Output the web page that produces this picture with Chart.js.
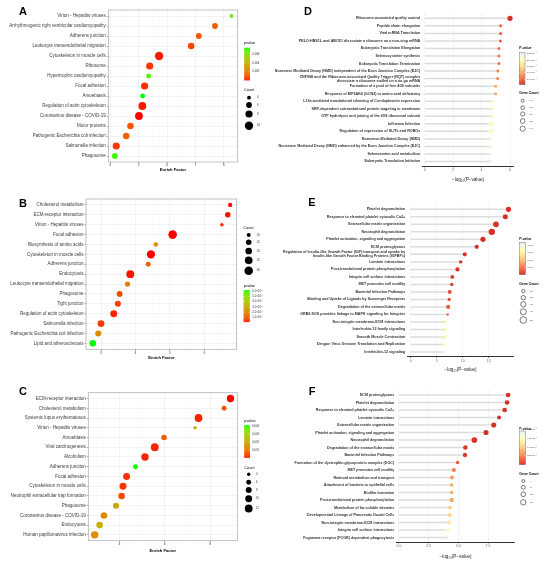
<!DOCTYPE html>
<html><head><meta charset="utf-8">
<script src="https://cdn.jsdelivr.net/npm/chart.js@4.4.1/dist/chart.umd.min.js"></script>
<style>
html,body{margin:0;padding:0;background:#fff;}
#wrap{position:relative;width:550px;height:564px;overflow:hidden;background:#fff;}
.pc{position:absolute;}
.pc canvas{display:block;}
.letter{position:absolute;transform:translate(-50%,-50%);font-family:"Liberation Sans",Arial,sans-serif;font-weight:bold;font-size:11px;line-height:1;color:#000;}
</style></head><body>
<div id="wrap">
 <div class="pc" style="left:0px;top:0px;width:275px;height:185px"><canvas id="cA"></canvas></div>
 <div class="pc" style="left:0px;top:185px;width:275px;height:185px"><canvas id="cB"></canvas></div>
 <div class="pc" style="left:0px;top:370px;width:275px;height:194px"><canvas id="cC"></canvas></div>
 <div class="pc" style="left:275px;top:0px;width:275px;height:185px"><canvas id="cD"></canvas></div>
 <div class="pc" style="left:275px;top:185px;width:275px;height:190px"><canvas id="cE"></canvas></div>
 <div class="pc" style="left:275px;top:375px;width:275px;height:189px"><canvas id="cF"></canvas></div>
 <div class="letter" style="left:23px;top:11px">A</div>
 <div class="letter" style="left:23px;top:203px">B</div>
 <div class="letter" style="left:23px;top:391px">C</div>
 <div class="letter" style="left:308px;top:11px">D</div>
 <div class="letter" style="left:312px;top:202px">E</div>
 <div class="letter" style="left:312px;top:391px">F</div>
</div>
<script>
// ================= DATA =================
// Panel A (KEGG)
const termsA = ["Virion - Hepatitis viruses","Arrhythmogenic right ventricular cardiomyopathy","Adherens junction","Leukocyte transendothelial migration","Cytoskeleton in muscle cells","Ribosome","Hypertrophic cardiomyopathy","Focal adhesion","Amoebiasis","Regulation of actin cytoskeleton","Coronavirus disease - COVID-19","Motor proteins","Pathogenic Escherichia coli infection","Salmonella infection","Phagosome"];
const enrichA = [8.27,7.69,7.12,6.85,5.72,5.39,5.35,5.21,5.14,5.13,5.01,4.71,4.56,4.21,4.16];
const countA  = [4,6,6,7,10,8,5,8,5,9,9,7,7,8,6];
const pvalA   = [0.0062,0.0012,0.0011,0.0007,0.0002,0.0005,0.0069,0.0004,0.0074,0.0002,0.0001,0.0011,0.0013,0.0005,0.0071];
const xTicksA = [4,5,6,7,8];
const xTickLabelsA = ["4","5","6","7","8"];
const xMinorA = [4.5,5.5,6.5,7.5];
const pTicksA = [0.002,0.004,0.006];
const pTickLabelsA = ["0.002","0.004","0.006"];
const countTicksA = [4,6,8,10];
const countTickLabelsA = ["4","6","8","10"];

// Panel B (KEGG)
const termsB = ["Cholesterol metabolism","ECM-receptor interaction","Virion - Hepatitis viruses","Focal adhesion","Biosynthesis of amino acids","Cytoskeleton in muscle cells","Adherens junction","Endocytosis","Leukocyte transendothelial migration","Phagosome","Tight junction","Regulation of actin cytoskeleton","Salmonella infection","Pathogenic Escherichia coli infection","Lipid and atherosclerosis"];
const enrichB = [6.75,6.68,6.51,5.08,4.59,4.45,4.37,3.85,3.77,3.54,3.49,3.37,3.00,2.92,2.76];
const countB  = [11,15,9,30,12,28,13,26,14,16,17,21,21,17,19];
const pvalB   = [2.6e-6,3.0e-6,4.5e-6,2.5e-6,2.4e-5,2.5e-6,1.2e-5,3.0e-6,2.0e-5,8e-6,7e-6,4e-6,6e-6,2.3e-5,6.2e-5];
const xTicksB = [3,4,5,6];
const xTickLabelsB = ["3","4","5","6"];
const xMinorB = [3.5,4.5,5.5,6.5];
const pTicksB = [1e-5,2e-5,3e-5,4e-5,5e-5,6e-5];
const pTickLabelsB = ["1.0×10⁻⁵","2.0×10⁻⁵","3.0×10⁻⁵","4.0×10⁻⁵","5.0×10⁻⁵","6.0×10⁻⁵"];
const countTicksB = [10,15,20,25,30];
const countTickLabelsB = ["10","15","20","25","30"];

// Panel C (KEGG)
const termsC = ["ECM-receptor interaction","Cholesterol metabolism","Systemic lupus erythematosus","Virion - Hepatitis viruses","Amoebiasis","Viral carcinogenesis","Alcoholism","Adherens junction","Focal adhesion","Cytoskeleton in muscle cells","Neutrophil extracellular trap formation","Phagosome","Coronavirus disease - COVID-19","Endocytosis","Human papillomavirus infection"];
const enrichC = [8.90,8.62,7.49,7.34,5.97,5.56,5.13,4.71,4.32,4.16,4.10,3.85,3.32,3.13,2.91];
const countC  = [11,6,12,4,7,12,11,6,10,10,9,8,9,9,11];
const pvalC   = [0.0001,0.0006,0.0002,0.0023,0.0007,0.0002,0.0002,0.0041,0.0003,0.0003,0.0005,0.0020,0.0014,0.0022,0.0015];
const xTicksC = [4,6,8];
const xTickLabelsC = ["4","6","8"];
const xMinorC = [3,5,7,9];
const pTicksC = [0.001,0.002,0.003,0.004];
const pTickLabelsC = ["0.001","0.002","0.003","0.004"];
const countTicksC = [4,6,8,10,12];
const countTickLabelsC = ["4","6","8","10","12"];

// Panel D (Reactome)
const termsD = ["Ribosome-associated quality control","Peptide chain elongation","Viral mRNA Translation","PELO:HBS1L and ABCE1 dissociate a ribosome on a non-stop mRNA","Eukaryotic Translation Elongation","Selenocysteine synthesis","Eukaryotic Translation Termination","Nonsense Mediated Decay (NMD) independent of the Exon Junction Complex (EJC)",["ZNF598 and the Ribosome-associated Quality Trigger (RQT) complex","dissociate a ribosome stalled on a no-go mRNA"],"Formation of a pool of free 40S subunits","Response of EIF2AK4 (GCN2) to amino acid deficiency","L13a-mediated translational silencing of Ceruloplasmin expression","SRP-dependent cotranslational protein targeting to membrane","GTP hydrolysis and joining of the 60S ribosomal subunit","Influenza Infection","Regulation of expression of SLITs and ROBOs","Nonsense-Mediated Decay (NMD)","Nonsense Mediated Decay (NMD) enhanced by the Exon Junction Complex (EJC)","Selenoamino acid metabolism","Eukaryotic Translation Initiation"];
const logpD  = [6.00,5.34,5.34,5.32,5.22,5.22,5.22,5.15,5.13,4.99,4.99,4.73,4.73,4.73,4.66,4.66,4.64,4.64,4.61,4.59];
const countD = [9,7,7,7,7,7,7,7,7,7,7,7,7,7,9,9,7,7,7,7];
const xTicksD = [0,2,4,6];
const xTickLabelsD = ["0","2","4","6"];
const pTicksD = [5e-6,1e-5,1.5e-5,2e-5,2.5e-5];
const pTickLabelsD = ["5.0×10⁻⁶","1.0×10⁻⁵","1.5×10⁻⁵","2.0×10⁻⁵","2.5×10⁻⁵"];
const countTicksD = [7,7.5,8,8.5,9];
const countTickLabelsD = ["7.0","7.5","8.0","8.5","9.0"];

// Panel E (Reactome)
const termsE = ["Platelet degranulation","Response to elevated platelet cytosolic Ca2+","Extracellular matrix organization","Neutrophil degranulation","Platelet activation, signaling and aggregation","ECM proteoglycans",["Regulation of Insulin-like Growth Factor (IGF) transport and uptake by","Insulin-like Growth Factor Binding Proteins (IGFBPs)"],"Laminin interactions","Post-translational protein phosphorylation","Integrin cell surface interactions","MET promotes cell motility","Bacterial Infection Pathways","Binding and Uptake of Ligands by Scavenger Receptors","Degradation of the extracellular matrix","GRB2:SOS provides linkage to MAPK signaling for Integrins","Non-integrin membrane-ECM interactions","Interleukin-12 family signaling","Smooth Muscle Contraction","Dengue Virus Genome Translation and Replication","Interleukin-12 signaling"];
const logpE  = [18.8,18.2,16.4,15.6,13.9,12.7,10.4,9.6,9.0,8.0,7.9,7.5,7.4,7.2,7.1,6.5,6.5,6.5,6.45,6.35];
const countE = [30,27,35,45,30,17,17,10,17,14,10,14,10,17,5,10,10,10,10,8];
const xTicksE = [0,5,10,15];
const xTickLabelsE = ["0","5","10","15"];
const pTicksE = [1e-7,2e-7,3e-7,4e-7];
const pTickLabelsE = ["1×10⁻⁷","2×10⁻⁷","3×10⁻⁷","4×10⁻⁷"];
const countTicksE = [10,20,30,40,50];
const countTickLabelsE = ["10","20","30","40","50"];

// Panel F (Reactome)
const termsF = ["ECM proteoglycans","Platelet degranulation","Response to elevated platelet cytosolic Ca2+","Laminin interactions","Extracellular matrix organization","Platelet activation, signaling and aggregation","Neutrophil degranulation","Degradation of the extracellular matrix","Bacterial Infection Pathways","Formation of the dystrophin-glycoprotein complex (DGC)","MET promotes cell motility","Retinoid metabolism and transport","Attachment of bacteria to epithelial cells","Biofilm formation","Post-translational protein phosphorylation","Metabolism of fat-soluble vitamins","Developmental Lineage of Pancreatic Ductal Cells","Non-integrin membrane-ECM interactions","Integrin cell surface interactions","Fcgamma receptor (FCGR) dependent phagocytosis"];
const logpF  = [9.19,9.10,8.90,8.43,7.98,7.33,6.35,5.59,5.56,4.94,4.63,4.47,4.44,4.44,4.44,4.30,4.27,4.21,4.10,4.02];
const countF = [12,12,12,8,14,14,18,11,10,6,8,8,5,5,10,7,8,8,8,8];
const xTicksF = [0,2.5,5,7.5];
const xTickLabelsF = ["0.0","2.5","5.0","7.5"];
const pTicksF = [2.5e-5,5e-5,7.5e-5,1e-4];
const pTickLabelsF = ["2.5×10⁻⁵","5.0×10⁻⁵","7.5×10⁻⁵","1.0×10⁻⁴"];
const countTicksF = [4,8,12,16];
const countTickLabelsF = ["4","8","12","16"];

// ================= COLOURS / SIZES =================
const FAM = "'Liberation Sans', Arial, Helvetica, sans-serif";
function s2l(c){c/=255;return c<=0.04045?c/12.92:Math.pow((c+0.055)/1.055,2.4);}
function l2s(c){c=c<=0.0031308?12.92*c:1.055*Math.pow(Math.max(c,0),1/2.4)-0.055;return Math.round(Math.max(0,Math.min(1,c))*255);}
function rgb2lab(rgb){const R=s2l(rgb[0]),G=s2l(rgb[1]),B=s2l(rgb[2]);
  const X=(0.4124*R+0.3576*G+0.1805*B)/0.95047,Y=0.2126*R+0.7152*G+0.0722*B,Z=(0.0193*R+0.1192*G+0.9505*B)/1.08883;
  const f=t=>t>0.008856?Math.cbrt(t):7.787*t+16/116;const fx=f(X),fy=f(Y),fz=f(Z);
  return [116*fy-16,500*(fx-fy),200*(fy-fz)];}
function lab2rgb(lab){const fy=(lab[0]+16)/116,fx=fy+lab[1]/500,fz=fy-lab[2]/200;
  const fi=t=>t>0.206893?t*t*t:(t-16/116)/7.787;
  const X=fi(fx)*0.95047,Y=fi(fy),Z=fi(fz)*1.08883;
  const R=3.2406*X-1.5372*Y-0.4986*Z,G=-0.9689*X+1.8758*Y+0.0415*Z,B=0.0557*X-0.2040*Y+1.0570*Z;
  return `rgb(${l2s(R)},${l2s(G)},${l2s(B)})`;}
const LAB_LO=rgb2lab([255,0,0]), LAB_HI=rgb2lab([0,255,0]);
function ggRedGreen(t){t=Math.max(0,Math.min(1,t));return lab2rgb(LAB_LO.map((v,i)=>v+(LAB_HI[i]-v)*t));}
const PAL=["#D73027","#F46D43","#FDAE61","#FEE090","#FFFFBF","#E0F3F8"];
function hex2rgb(h){return [parseInt(h.slice(1,3),16),parseInt(h.slice(3,5),16),parseInt(h.slice(5,7),16)];}
function palRYB(t){const n=PAL.length-1;const s=Math.min(n-1e-9,Math.max(0,t*n));const i=Math.floor(s),f=s-i;
  const a=hex2rgb(PAL[i]),b=hex2rgb(PAL[i+1]);return `rgb(${a.map((v,k)=>Math.round(v+(b[k]-v)*f)).join(',')})`;}
function sizeFn(cmin,cmax,rmin,rmax){return c=>Math.sqrt(Math.max(0.4,rmin*rmin+(c-cmin)/(cmax-cmin)*(rmax*rmax-rmin*rmin)));}
const toP = arr => arr.map(v=>Math.pow(10,-v));

// ================= PANEL LAYOUT =================
const panels = [
 {id:'cA',style:'gg',box:[0,0,275,185],plot:[108.3,10,237.7,162],xAxisH:10,terms:termsA,xs:enrichA,counts:countA,ps:pvalA,
  xMin:3.93,xMax:8.49,xMajor:xTicksA,xLabels:xTickLabelsA,xMinor:xMinorA,xTitle:'Enrich Factor',
  labelFont:4.5,tickFont:3.4,titleFont:4.1,size:[4,10,1.9,4.2],pTicks:pTicksA,pLabels:pTickLabelsA,cTicks:countTicksA,cLabels:countTickLabelsA,
  leg:{titleSize:3.8,labelSize:2.8,cbar:{title:'pvalue',tx:244,ty:43.3,x:244.3,y0:47.7,y1:80,w:5.7,lx:252.3},
       size:{title:'Count',tx:244,ty:90,cx:249,ys:[97.7,105,114,125.7],lx:257}}},
 {id:'cB',style:'gg',box:[0,185,275,185],plot:[86,199,236.7,349.3],xAxisH:11.1,terms:termsB,xs:enrichB,counts:countB,ps:pvalB,
  xMin:2.564,xMax:6.94,xMajor:xTicksB,xLabels:xTickLabelsB,xMinor:xMinorB,xTitle:'Enrich Factor',
  labelFont:4.5,tickFont:3.4,titleFont:4.1,size:[10,30,2.0,4.3],pTicks:pTicksB,pLabels:pTickLabelsB,cTicks:countTicksB,cLabels:countTickLabelsB,
  leg:{titleSize:3.8,labelSize:2.8,cbar:{title:'pvalue',tx:243.7,ty:100.7,x:243.7,y0:105,y1:136.7,w:6,lx:252.3},
       size:{title:'Count',tx:243.3,ty:43.3,cx:248.7,ys:[50,57.3,66,75.3,85.7],lx:256.7}}},
 {id:'cC',style:'gg',box:[0,370,275,194],plot:[88.3,392.7,237.3,540.7],xAxisH:12.7,terms:termsC,xs:enrichC,counts:countC,ps:pvalC,
  xMin:2.63,xMax:9.2,xMajor:xTicksC,xLabels:xTickLabelsC,xMinor:xMinorC,xTitle:'Enrich Factor',
  labelFont:4.5,tickFont:3.4,titleFont:4.1,size:[4,12,1.7,3.9],pTicks:pTicksC,pLabels:pTickLabelsC,cTicks:countTicksC,cLabels:countTickLabelsC,
  leg:{titleSize:3.8,labelSize:2.8,cbar:{title:'pvalue',tx:244.3,ty:50.7,x:244.3,y0:55,y1:87.3,w:5.7,lx:252},
       size:{title:'Count',tx:244.3,ty:97.7,cx:248.7,ys:[104.3,112.3,120,128.7,138.5],lx:256}}},
 {id:'cD',style:'lolli',box:[275,0,275,185],plot:[422.7,13.8,513.3,166],xAxisH:16,terms:termsD,xs:logpD,counts:countD,ps:toP(logpD),
  xMin:-0.14,xMax:6.23,xMajor:xTicksD,xLabels:xTickLabelsD,xMinor:[],xTitle:'−log₁₀(P−value)',
  labelFont:3.68,tickFont:3.5,titleFont:4.6,size:[7,9,1.5,2.6],pTicks:pTicksD,pLabels:pTickLabelsD,cTicks:countTicksD,cLabels:countTickLabelsD,
  leg:{titleSize:3.4,labelSize:2.5,cbar:{title:'P-value',tx:244.3,ty:48.3,x:244.3,y0:52.7,y1:84.3,w:5.7,lx:252},
       size:{title:'Gene Count',tx:244.3,ty:92.7,cx:247.7,ys:[100.7,107.7,114,121,128.7],lx:254.3}}},
 {id:'cE',style:'lolli',box:[275,185,275,190],plot:[407.7,204.8,513.3,356.5],xAxisH:15.8,terms:termsE,xs:logpE,counts:countE,ps:toP(logpE),
  xMin:-0.58,xMax:19.73,xMajor:xTicksE,xLabels:xTickLabelsE,xMinor:[],xTitle:'−log₁₀(P−value)',
  labelFont:3.68,tickFont:3.5,titleFont:4.6,size:[10,50,1.67,3.35],pTicks:pTicksE,pLabels:pTickLabelsE,cTicks:countTicksE,cLabels:countTickLabelsE,
  leg:{titleSize:3.4,labelSize:2.5,cbar:{title:'P-value',tx:244.3,ty:54,x:244.3,y0:57.3,y1:89.3,w:6,lx:252.3},
       size:{title:'Gene Count',tx:244.3,ty:99.3,cx:248.3,ys:[106,112.7,119.3,126.7,135],lx:255}}},
 {id:'cF',style:'lolli',box:[275,375,275,189],plot:[396.7,390.5,514.3,542],xAxisH:17,terms:termsF,xs:logpF,counts:countF,ps:toP(logpF),
  xMin:-0.19,xMax:9.71,xMajor:xTicksF,xLabels:xTickLabelsF,xMinor:[],xTitle:'−log₁₀(P−value)',
  labelFont:3.68,tickFont:3.5,titleFont:4.6,size:[4,16,1.5,2.7],pTicks:pTicksF,pLabels:pTickLabelsF,cTicks:countTicksF,cLabels:countTickLabelsF,
  leg:{titleSize:3.4,labelSize:2.5,cbar:{title:'P-value',tx:244.3,ty:53.7,x:244.3,y0:56,y1:89.3,w:6,lx:252.3},
       size:{title:'Gene Count',tx:244.3,ty:99.3,cx:248.3,ys:[106,112.3,119.3,127.3],lx:255}}}
];

// ================= PLUGIN (panel border + legends) =================
const meta = {};
const ggExtras = {
  id:'ggExtras',
  afterDatasetsDraw(chart){
    const m = meta[chart.canvas.id]; if(!m || m.style!=='gg') return;
    const a = chart.chartArea, ctx = chart.ctx;
    ctx.save(); ctx.strokeStyle='#A8A8A8'; ctx.lineWidth=0.7;
    ctx.strokeRect(a.left,a.top,a.right-a.left,a.bottom-a.top); ctx.restore();
  },
  afterDraw(chart){
    const m = meta[chart.canvas.id]; if(!m) return;
    const ctx = chart.ctx, L = m.leg, gg = m.style==='gg';
    ctx.save();
    ctx.textBaseline='middle'; ctx.textAlign='left';
    const cb = L.cbar, h = cb.y1-cb.y0, steps = 80;
    ctx.fillStyle='#000'; ctx.font=`${gg?'':'bold '}${L.titleSize}px ${FAM}`;
    ctx.fillText(cb.title, cb.tx, cb.ty);
    for(let k=0;k<steps;k++){
      ctx.fillStyle = m.colorFn((k+0.5)/steps);
      ctx.fillRect(cb.x, cb.y1-(k+1)*h/steps, cb.w, h/steps+0.4);
    }
    if(!gg){ ctx.strokeStyle='#777'; ctx.lineWidth=0.5; ctx.strokeRect(cb.x,cb.y0,cb.w,h); }
    ctx.font=`${L.labelSize}px ${FAM}`;
    m.pTicks.forEach((p,i)=>{
      const t=(p-m.pMin)/(m.pMax-m.pMin), yy=cb.y1-t*h;
      ctx.strokeStyle='#fff'; ctx.lineWidth=0.4; ctx.beginPath();
      ctx.moveTo(cb.x,yy); ctx.lineTo(cb.x+cb.w*0.2,yy); ctx.moveTo(cb.x+cb.w*0.8,yy); ctx.lineTo(cb.x+cb.w,yy); ctx.stroke();
      ctx.fillStyle='#333'; ctx.fillText(m.pLabels[i], cb.lx, yy);
    });
    const sz = L.size;
    ctx.fillStyle='#000'; ctx.font=`${gg?'':'bold '}${L.titleSize}px ${FAM}`;
    ctx.fillText(sz.title, sz.tx, sz.ty);
    ctx.font=`${L.labelSize}px ${FAM}`;
    m.cTicks.forEach((c,i)=>{
      const r = m.rFn(c);
      ctx.beginPath(); ctx.arc(sz.cx, sz.ys[i], r, 0, Math.PI*2);
      if(gg){ ctx.fillStyle='#000'; ctx.fill(); }
      else { ctx.fillStyle='#fff'; ctx.fill(); ctx.strokeStyle='#111'; ctx.lineWidth=0.55; ctx.stroke(); }
      ctx.fillStyle='#333'; ctx.fillText(m.cLabels[i], sz.lx, sz.ys[i]);
    });
    ctx.restore();
  }
};
Chart.register(ggExtras);

// ================= BUILD =================
function build(P){
  const [cx,cy,cw,ch]=P.box, [pl,pt,pr,pb]=P.plot;
  const wy=pl-cx, padTop=pt-cy, padRight=cx+cw-pr, padBottom=cy+ch-pb-P.xAxisH;
  const gg = P.style==='gg';
  const n = P.terms.length;
  const rFn = sizeFn(...P.size);
  const colorFn = gg ? ggRedGreen : palRYB;
  const pMin=Math.min(...P.ps), pMax=Math.max(...P.ps);
  meta[P.id] = {style:P.style, leg:P.leg, colorFn, rFn, pMin, pMax, pTicks:P.pTicks, pLabels:P.pLabels, cTicks:P.cTicks, cLabels:P.cLabels};
  const cols = P.ps.map(p=>colorFn((p-pMin)/(pMax-pMin)));
  const datasets=[];
  if(!gg){
    P.xs.forEach((v,i)=>datasets.push({type:'line',data:[{x:0,y:i},{x:v,y:i}],borderColor:'#DCDCDC',borderWidth:1.5,
      borderCapStyle:'butt',pointRadius:0,pointHoverRadius:0,fill:false,order:2,clip:false}));
  }
  datasets.push({type:'bubble',data:P.terms.map((t,i)=>({x:P.xs[i],y:i,r:rFn(P.counts[i])})),
    backgroundColor:cols,borderColor:cols,borderWidth:0,hoverBorderWidth:0,order:1,clip:false});
  const allX = P.xMajor.concat(P.xMinor).sort((a,b)=>a-b);
  const isMajor = c => c && c.tick && P.xMajor.includes(c.tick.value);
  new Chart(document.getElementById(P.id),{
    type:'bubble',
    data:{datasets},
    options:{
      responsive:true, maintainAspectRatio:false, animation:false, events:[],
      layout:{padding:{left:0,top:padTop,right:padRight,bottom:padBottom}},
      plugins:{legend:{display:false},tooltip:{enabled:false}},
      scales:{
        x:{type:'linear',position:'bottom',min:P.xMin,max:P.xMax,
          afterBuildTicks:s=>{s.ticks=allX.map(v=>({value:v}));},
          afterFit:s=>{s.height=P.xAxisH;},
          ticks:{autoSkip:false,maxRotation:0,padding:gg?0:0.5,color:gg?'#4D4D4D':'#666',font:{family:FAM,size:P.tickFont},
            callback:v=>{const k=P.xMajor.indexOf(v);return k>=0?P.xLabels[k]:'';}},
          grid:gg?{
              color:c=>isMajor(c)?'#EBEBEB':'#F4F4F4', lineWidth:c=>isMajor(c)?0.6:0.35,
              drawTicks:true,tickLength:1.5,tickWidth:0.5,tickColor:c=>isMajor(c)?'#555':'rgba(0,0,0,0)'}
            :{color:'#E2E2E2',lineWidth:0.6,drawTicks:true,tickLength:1.5,tickWidth:0.6,tickColor:'#333'},
          border:gg?{display:false}:{display:true,color:'#333',width:1,dash:[2,2]},
          title:{display:true,text:P.xTitle,color:gg?'#000':'#222',padding:0,
            font:{family:FAM,size:P.titleFont,weight:gg?'bold':'normal'}}
        },
        y:{type:'linear',position:'left',reverse:true,min:-0.6,max:n-0.4,
          afterBuildTicks:s=>{s.ticks=P.terms.map((t,i)=>({value:i}));},
          afterFit:s=>{s.width=wy;},
          ticks:{autoSkip:false,padding:gg?1:2.5,color:gg?'#3A3A3A':'#333',
            font:{family:FAM,size:P.labelFont,weight:gg?'normal':'bold',lineHeight:1.05},
            callback:v=>P.terms[v]},
          grid:gg?{color:'#EBEBEB',lineWidth:0.6,drawTicks:true,tickLength:1.5,tickWidth:0.5,tickColor:'#555'}
            :{display:false,drawTicks:false},
          border:{display:false}
        }
      }
    }
  });
}
panels.forEach(build);
</script>
</body></html>
